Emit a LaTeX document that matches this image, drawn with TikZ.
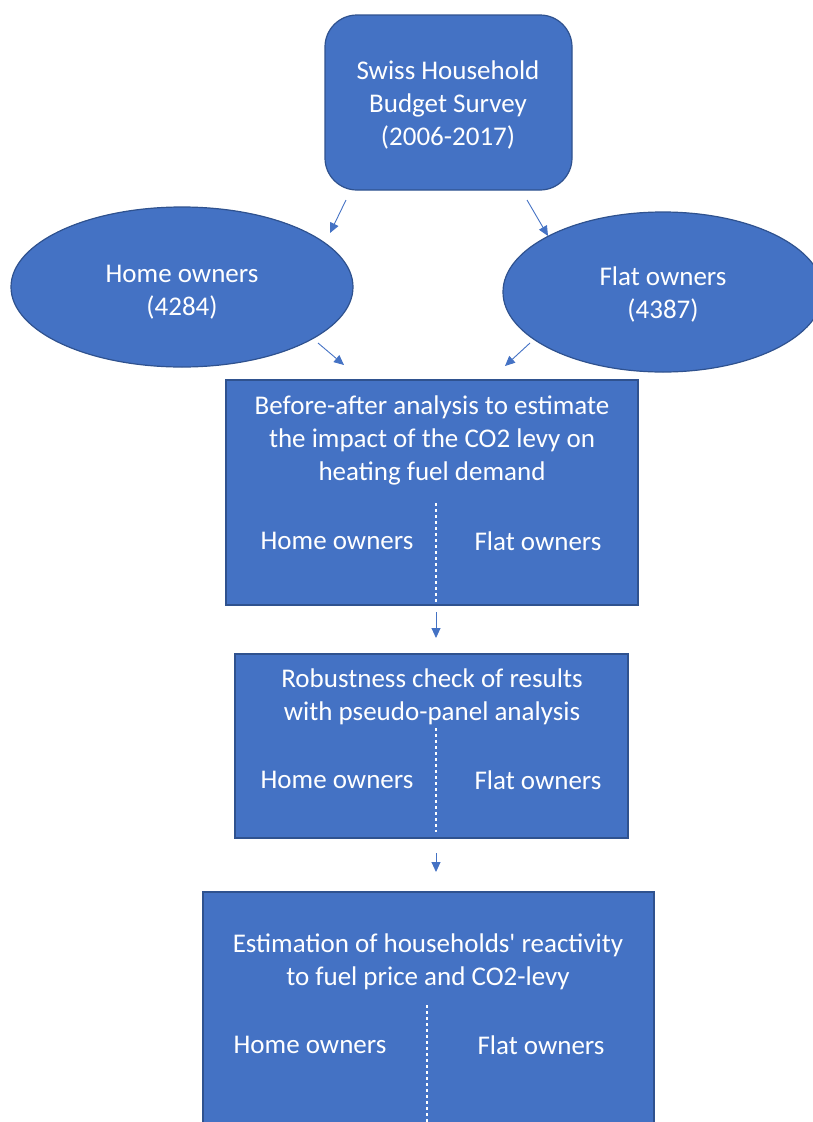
\documentclass[tikz,border=0pt]{standalone}
\usepackage{fontspec}
\setmainfont{Carlito}
\usetikzlibrary{shapes.geometric,arrows.meta}
\definecolor{boxblue}{HTML}{4472C4}
\definecolor{edgeblue}{HTML}{2F528F}
\tikzset{
  blk/.style={fill=boxblue,draw=edgeblue,line width=1.2pt},
  txt/.style={text=white,font=\fontsize{27}{33}\selectfont,align=center,inner sep=0pt},
  conn/.style={draw=boxblue,line width=0.9pt,-{Triangle[length=10pt,width=9pt]}},
  divider/.style={draw=white,line width=1.4pt,dash pattern=on 3pt off 3pt}
}
\begin{document}
\begin{tikzpicture}[x=1pt,y=-1pt]
\useasboundingbox (0,0) rectangle (813,1122);
\begin{scope}
\clip (0,0) rectangle (813,1122);
% top box
\draw[blk,rounded corners=32pt] (325,15) rectangle (572,190);
\node[txt] (survey) at (448,105) {Swiss Household\\Budget Survey\\(2006-2017)};
% ellipses
\node[blk,ellipse,minimum width=342pt,minimum height=160pt] (home) at (182,287) {};
\node[txt] at (182,292) {Home owners\\(4284)};
\node[blk,ellipse,minimum width=320pt,minimum height=160pt] (flat) at (663,292) {};
\node[txt] at (663,294) {Flat owners\\(4387)};
% box 2
\draw[blk] (226,380) rectangle (638,605);
\node[txt] (ba) at (432,440) {Before-after analysis to estimate\\the impact of the CO2 levy on\\heating fuel demand};
\node[txt] (ba1) at (337,541) {Home owners};
\node[txt] (ba2) at (538,541) {Flat owners};
\draw[divider] (436,503) -- (436,604);
% box 3
\draw[blk] (235,654) rectangle (628,838);
\node[txt] (rb) at (432,697) {Robustness check of results\\with pseudo-panel analysis};
\node[txt] (rb1) at (337,780) {Home owners};
\node[txt] (rb2) at (538,780) {Flat owners};
\draw[divider] (436,728) -- (436,832);
% box 4
\draw[blk] (203,892) rectangle (654,1130);
\node[txt] (es) at (428,962) {Estimation of households\textquotesingle{} reactivity\\to fuel price and CO2-levy};
\node[txt] (es1) at (310,1045) {Home owners};
\node[txt] (es2) at (541,1045) {Flat owners};
\draw[divider] (427,1005) -- (427,1122);
\end{scope}
% connectors
\coordinate (a1s) at (346,200); \coordinate (a1e) at (330,233);
\coordinate (a2s) at (527,200); \coordinate (a2e) at (548,236);
\coordinate (a3s) at (318,343); \coordinate (a3e) at (344,365);
\coordinate (a4s) at (530,343); \coordinate (a4e) at (505,366);
\coordinate (a5s) at (436,612); \coordinate (a5e) at (436,638);
\coordinate (a6s) at (436,853); \coordinate (a6e) at (436,872);
\draw[conn] (a1s) -- (a1e);
\draw[conn] (a2s) -- (a2e);
\draw[conn] (a3s) -- (a3e);
\draw[conn] (a4s) -- (a4e);
\draw[conn] (a5s) -- (a5e);
\draw[conn] (a6s) -- (a6e);
\end{tikzpicture}
\end{document}
